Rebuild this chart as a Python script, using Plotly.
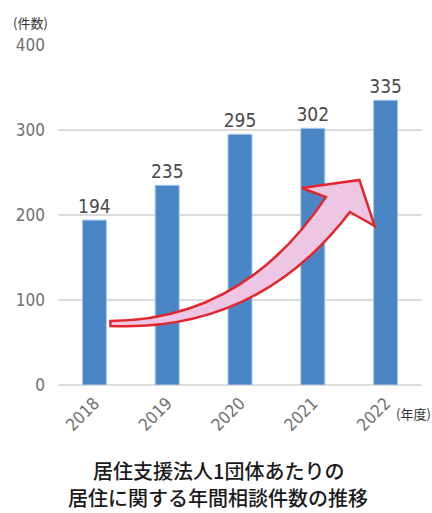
import plotly.graph_objects as go

years = ["2018", "2019", "2020", "2021", "2022"]
counts = [194, 235, 295, 302, 335]
y_ticks = [0, 100, 200, 300, 400]
title_lines = ["居住支援法人1団体あたりの", "居住に関する年間相談件数の推移"]

NUM_FONT = "DejaVu Sans Condensed, Roboto, Arial"
JP_FONT = "Noto Sans CJK JP, Noto Sans, sans-serif"

fig = go.Figure()
fig.add_trace(go.Bar(
    x=years, y=counts,
    marker=dict(color="#4a86c6", line=dict(color="#a9c9ea", width=1)),
    text=[str(c) for c in counts], textposition="outside", constraintext="none",
    textfont=dict(family=NUM_FONT, size=19, color="#4a4a4a"),
    cliponaxis=False,
))

# decorative curved arrow, defined in (category index, value) space
n = len(years)
def P(i, v):
    return f"{(i + 0.5) / n:.4f},{v / 400:.4f}"

arrow = (
    f"M {P(0.22, 75.3)} Q {P(2.05, 76)} {P(3.18, 221)} "
    f"L {P(2.85, 231.8)} L {P(3.64, 241.2)} L {P(3.85, 187)} "
    f"L {P(3.51, 203.5)} Q {P(2.25, 62)} {P(0.22, 69.4)} Z"
)
fig.add_shape(type="path", path=arrow, xref="paper", yref="paper",
              fillcolor="#ecc6e2", line=dict(color="#e3262b", width=2.5), layer="above")

fig.update_layout(
    width=432, height=513,
    margin=dict(l=58, r=10, t=45, b=128),
    paper_bgcolor="white", plot_bgcolor="white",
    bargap=0.67, showlegend=False,
    xaxis=dict(type="category", tickangle=-45, showgrid=False, showline=False, ticks="",
               ticklabelstandoff=4,
               tickfont=dict(family=NUM_FONT, size=17, color="#707070")),
    yaxis=dict(range=[0, 400], tickvals=y_ticks, showgrid=True, gridcolor="#dcdcdc",
               gridwidth=1.5, zeroline=True, zerolinecolor="#dcdcdc", zerolinewidth=1.5,
               ticks="", ticklabelstandoff=12,
               tickfont=dict(family=NUM_FONT, size=17, color="#707070")),
)

fig.add_annotation(text="(件数)", xref="paper", yref="paper", x=-0.13, y=1.065,
                   xanchor="left", yanchor="middle", showarrow=False,
                   font=dict(family=JP_FONT, size=13, color="#333333"))
fig.add_annotation(text="(年度)", xref="paper", yref="paper", x=1.03, y=-0.085,
                   xanchor="right", yanchor="middle", showarrow=False,
                   font=dict(family=JP_FONT, size=13, color="#333333"))
for line, yp in zip(title_lines, [-0.251, -0.331]):
    fig.add_annotation(text=line, xref="paper", yref="paper", borderpad=0,
                       x=0.44, y=yp, xanchor="center", yanchor="middle", showarrow=False,
                       font=dict(family=JP_FONT, size=20, color="#1a1a1a", weight=500))

fig.write_html("out.html")
